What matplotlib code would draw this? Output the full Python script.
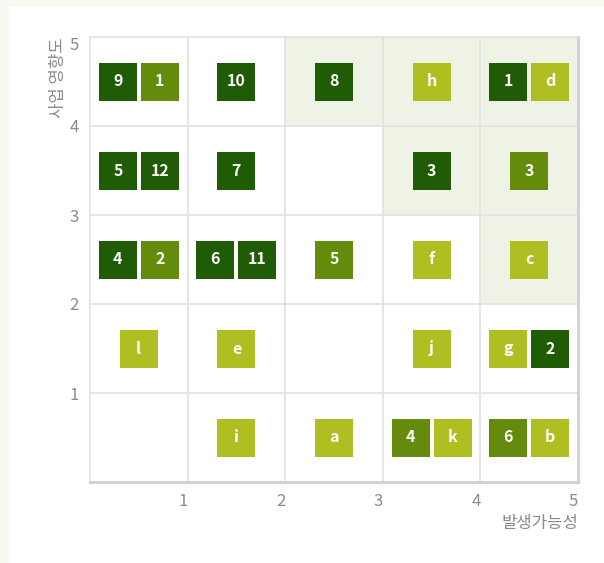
import matplotlib
matplotlib.use('Agg')
import matplotlib.pyplot as plt
from matplotlib.patches import Rectangle

plt.rcParams['font.family'] = ['Noto Sans CJK KR', 'DejaVu Sans']

# risk items: column (likelihood), row (impact), label, colour level
item_cols = [1, 1, 2, 3, 4, 5, 5,
             1, 1, 2, 4, 5,
             1, 1, 2, 2, 3, 4, 5,
             1, 2, 4, 5, 5,
             2, 3, 4, 4, 5, 5]
item_rows = [5, 5, 5, 5, 5, 5, 5,
             4, 4, 4, 4, 4,
             3, 3, 3, 3, 3, 3, 3,
             2, 2, 2, 2, 2,
             1, 1, 1, 1, 1, 1]
item_labels = ['9', '1', '10', '8', 'h', '1', 'd',
               '5', '12', '7', '3', '3',
               '4', '2', '6', '11', '5', 'f', 'c',
               'l', 'e', 'j', 'g', '2',
               'i', 'a', '4', 'k', '6', 'b']
item_levels = ['dark', 'mid', 'dark', 'dark', 'light', 'dark', 'light',
               'dark', 'dark', 'dark', 'dark', 'mid',
               'dark', 'mid', 'dark', 'dark', 'mid', 'light', 'light',
               'light', 'light', 'light', 'light', 'dark',
               'light', 'light', 'mid', 'light', 'mid', 'light']

# highlighted cells (column, row)
shaded_cells = [(3, 5), (4, 5), (5, 5), (4, 4), (5, 4), (5, 3)]

level_colors = {'dark': '#1f5c05', 'mid': '#648b0b', 'light': '#afbf21'}

W, H = 604, 563
fig = plt.figure(figsize=(W / 100, H / 100), dpi=100)
fig.patch.set_facecolor('#f7f8ef')
fig.add_artist(Rectangle((9 / W, 0), 1, 1 - 6 / H, transform=fig.transFigure,
                         facecolor='white', edgecolor='none', zorder=0))

ax_l, ax_r, ax_t, ax_b = 90, 578, 37, 482
ax = fig.add_axes([ax_l / W, 1 - ax_b / H, (ax_r - ax_l) / W, (ax_b - ax_t) / H])
ax.set_facecolor('white')
ax.set_xlim(0, 5)
ax.set_ylim(0, 5)

for c, r in shaded_cells:
    ax.add_patch(Rectangle((c - 1, r - 1), 1, 1, facecolor='#eff3e6',
                           edgecolor='none', zorder=0))

for v in range(1, 5):
    ax.axvline(v, color='#e2e2e2', lw=1.2, zorder=1)
    ax.axhline(v, color='#e2e2e2', lw=1.2, zorder=1)

for side in ['top', 'left']:
    ax.spines[side].set_color('#e2e2e2')
    ax.spines[side].set_linewidth(1.2)
for side in ['bottom', 'right']:
    ax.spines[side].set_color('#cfcfcf')
    ax.spines[side].set_linewidth(2)

# group items per cell so pairs sit side by side
px_per_x = (ax_r - ax_l) / 5
cells = {}
for i in range(len(item_labels)):
    cells.setdefault((item_cols[i], item_rows[i]), []).append(i)

box_px = 38
gap_px = 4
for (c, r), idx in cells.items():
    n = len(idx)
    for k, i in enumerate(idx):
        off_px = (k - (n - 1) / 2) * (box_px + gap_px)
        x = c - 0.5 + off_px / px_per_x
        y = r - 0.5
        ax.scatter([x], [y], marker='s', s=(box_px * 0.72) ** 2,
                   color=level_colors[item_levels[i]], linewidths=0, zorder=3)
        ax.text(x, y, item_labels[i], color='white', fontsize=11.5,
                fontweight='bold', ha='center', va='center', zorder=4)

ax.set_xticks([1, 2, 3, 4, 5])
ax.set_yticks([1, 2, 3, 4, 5])
ax.set_xticklabels(['1', '2', '3', '4', '5'], ha='right')
ax.set_yticklabels(['1', '2', '3', '4', '5'])
ax.tick_params(length=0, labelsize=12, labelcolor='#8a8a8a', pad=8)
ax.get_yticklabels()[-1].set_va('top')

ax.text(1.0, -0.075, '발생가능성', transform=ax.transAxes, ha='right', va='top',
        fontsize=12, color='#8a8a8a')
ax.text(-0.064, 1.0, '사업 영향도', transform=ax.transAxes, ha='center', va='top',
        rotation=90, fontsize=12, color='#8a8a8a')

fig.savefig('out.png', dpi=100, facecolor=fig.get_facecolor())
